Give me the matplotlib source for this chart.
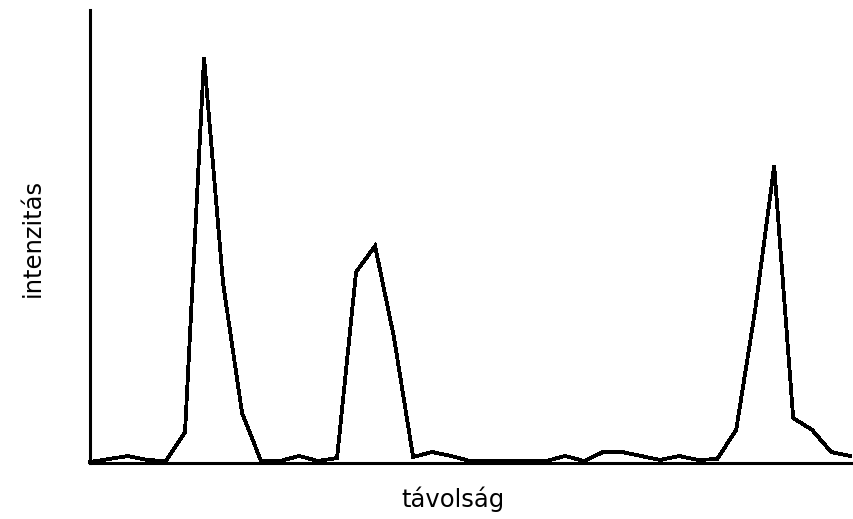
import matplotlib
matplotlib.use('Agg')
import matplotlib.pyplot as plt

# distance samples (arbitrary units) and measured intensity
tavolsag = list(range(41))
intenzitas = [1, 4, 7, 3, 2, 31, 405, 180, 50, 2,
              2, 7, 2, 5, 191, 217, 125, 6, 11, 7,
              2, 2, 2, 2, 2, 7, 2, 11, 11, 7,
              3, 7, 3, 4, 33, 153, 297, 45, 33, 11,
              7]

x_label = 'távolság'
y_label = 'intenzitás'


def main():
	plt.rcParams['font.family'] = ['DejaVu Sans']
	W, H = 854, 519
	fig = plt.figure(figsize=(W / 100, H / 100), dpi=100)
	ax = fig.add_axes([90 / W, (H - 463) / H, (854 - 90) / W, (463 - 10) / H])

	ax.plot(tavolsag, intenzitas, color='black', linewidth=2.0,
		antialiased=False, solid_joinstyle='miter', clip_on=False)

	ax.set_xlim(0, 40.2)
	ax.set_ylim(0, 453)
	for side in ('top', 'right'):
		ax.spines[side].set_visible(False)
	for side in ('left', 'bottom'):
		ax.spines[side].set_linewidth(2.2)
	ax.set_xticks([])
	ax.set_yticks([])

	fig.text(453 / W, 1 - 499 / H, x_label, ha='center', va='center', fontsize=17.5)
	fig.text(33 / W, 1 - 238 / H, y_label, ha='center', va='center',
		rotation=90, fontsize=17.5)

	fig.savefig('out.png', dpi=100)


if __name__ == '__main__':
	main()
